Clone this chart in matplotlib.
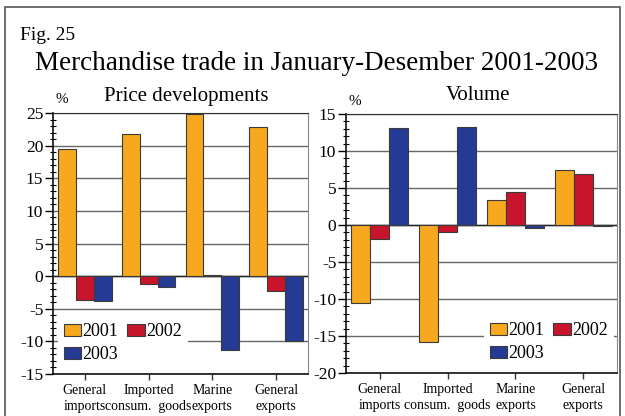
import matplotlib
matplotlib.use("Agg")
import matplotlib.pyplot as plt
from matplotlib.patches import Patch, Rectangle
from matplotlib.ticker import MultipleLocator
import numpy as np

plt.rcParams['font.family'] = ['Liberation Serif', 'DejaVu Serif']

categories = ["General\nimports", "Imported\nconsum.  goods", "Marine\nexports", "General\nexports"]
years = ["2001", "2002", "2003"]
colors = ["#F7A81E", "#C8152B", "#253A95"]

price_2001 = [19.5, 21.8, 24.8, 22.8]
price_2002 = [-3.6, -1.2, 0.15, -2.35]
price_2003 = [-3.8, -1.7, -11.25, -9.9]

volume_2001 = [-10.5, -15.85, 3.4, 7.4]
volume_2002 = [-1.85, -0.9, 4.4, 6.9]
volume_2003 = [13.1, 13.25, -0.45, -0.2]

W, H = 625, 416
fig = plt.figure(figsize=(W / 100, H / 100), dpi=100)

# outer frame
fig.patches.append(Rectangle((5 / W, -0.05), 615 / W, 1 - 7 / H + 0.05, transform=fig.transFigure,
                             fill=False, edgecolor="#555555", lw=1.2))

fig.text(20 / W, 1 - 35 / H, "Fig. 25", fontsize=14, va="center", ha="left")
fig.text(316 / W, 1 - 63 / H, "Merchandise trade in January-Desember 2001-2003",
         fontsize=19.5, va="center", ha="center")


def draw(ax_rect, s1, s2, s3, ylim, major, title, title_x, legend_anchor):
    ax = fig.add_axes(ax_rect)
    x = np.arange(len(categories))
    w = 0.28
    for i, (vals, c) in enumerate(zip([s1, s2, s3], colors)):
        ax.bar(x + (i - 1) * w, vals, width=w, color=c, edgecolor="#3a3a3a", lw=0.8, zorder=3)
    ax.set_xlim(-0.5, len(categories) - 0.5)
    ax.set_ylim(*ylim)
    ax.yaxis.set_major_locator(MultipleLocator(major))
    ax.yaxis.set_minor_locator(MultipleLocator(1))
    ax.yaxis.grid(True, which="major", color="#666666", lw=1.0, zorder=1)
    ax.set_axisbelow(True)
    ax.axhline(0, color="#222222", lw=1.0, zorder=2)
    ax.set_xticks(x)
    ax.set_xticklabels(categories, fontsize=10, linespacing=1.3)
    ax.tick_params(axis="x", length=4, width=1, color="#333333", pad=3)
    ax.tick_params(axis="y", which="major", direction="out", length=6, width=1, labelsize=12.5, pad=1)
    ax.tick_params(axis="y", which="minor", direction="inout", length=4, width=0.8)
    ax.set_yticklabels([f"{int(v)}" for v in ax.get_yticks()])
    for s in ["left", "bottom"]:
        ax.spines[s].set_color("#111111")
        ax.spines[s].set_linewidth(1.2)
    ax.spines["top"].set_color("#333333")
    ax.spines["right"].set_color("#888888")
    ax.text(0.01, 1.025, "%", transform=ax.transAxes, fontsize=11, ha="left", va="bottom")
    fig.text(title_x / W, 1 - 96 / H, title, fontsize=15, ha="center", va="center")
    handles = [Patch(facecolor=colors[0], edgecolor="#3a3a3a", lw=0.8, label=years[0]),
               Patch(facecolor=colors[2], edgecolor="#3a3a3a", lw=0.8, label=years[2]),
               Patch(facecolor=colors[1], edgecolor="#3a3a3a", lw=0.8, label=years[1])]
    leg = ax.legend(handles=handles, ncol=2, loc="lower left", bbox_to_anchor=legend_anchor,
                    fontsize=13, frameon=True, fancybox=False, edgecolor="none", facecolor="white",
                    framealpha=1, handlelength=0.95, handleheight=0.65, handletextpad=0.1,
                    columnspacing=0.5, labelspacing=0.35, borderpad=0.3, borderaxespad=0)
    leg.set_zorder(5)
    return ax


draw([53 / W, 1 - 374 / H, 255 / W, 261 / H], price_2001, price_2002, price_2003,
     (-15, 25), 5, "Price developments", 186, (0.02, 0.02))
draw([346 / W, 1 - 373 / H, 271 / W, 259 / H], volume_2001, volume_2002, volume_2003,
     (-20, 15), 5, "Volume", 478, (0.51, 0.02))

fig.savefig("out.png", dpi=100)
